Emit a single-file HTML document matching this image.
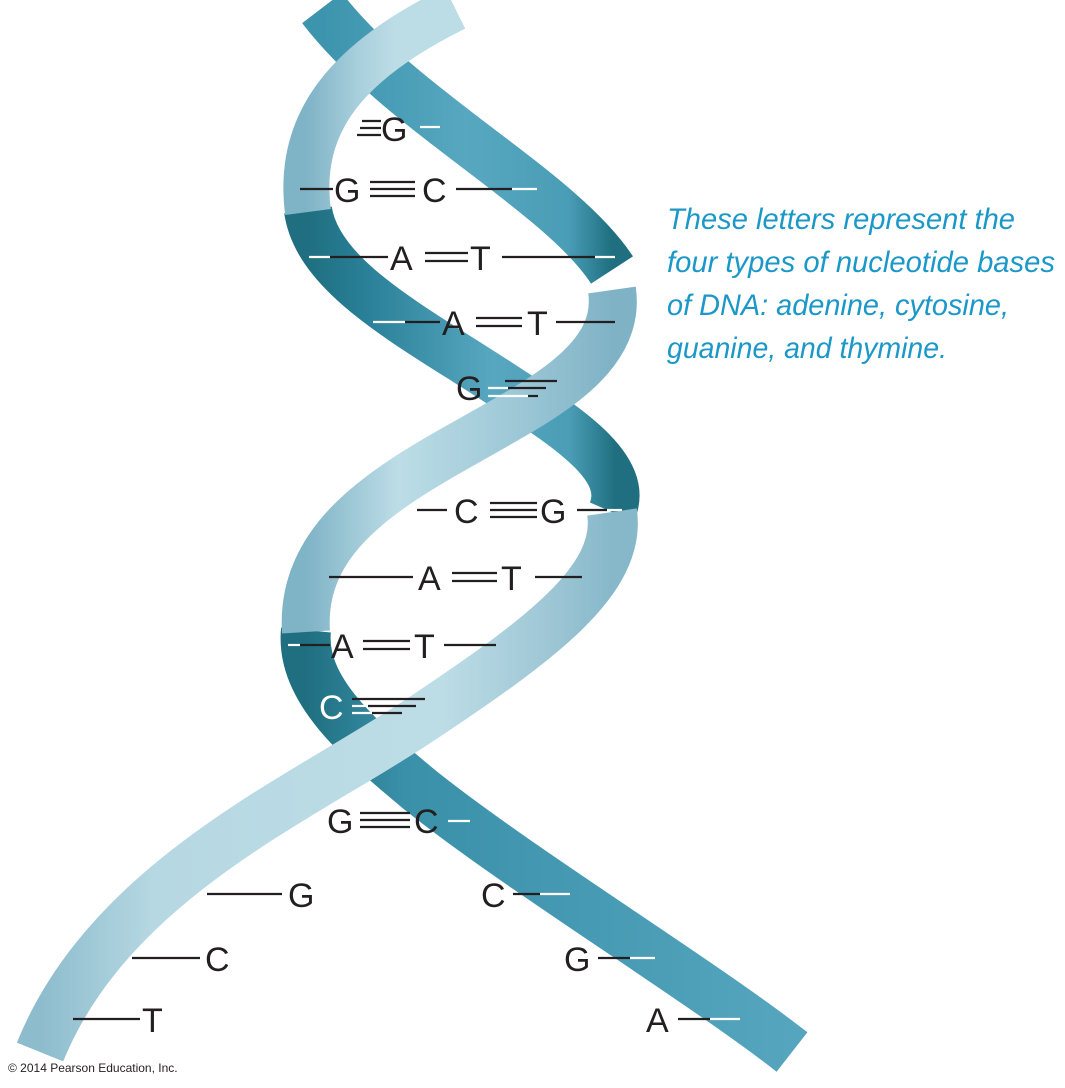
<!DOCTYPE html>
<html><head><meta charset="utf-8"><style>
html,body{margin:0;padding:0;background:#fff;}
svg{display:block;}
.b{font-family:"Liberation Sans",sans-serif;font-size:34px;fill:#231f20;}
.w{font-family:"Liberation Sans",sans-serif;font-size:34px;fill:#fff;}
.r{font-family:"Liberation Sans",sans-serif;font-style:italic;font-size:30px;fill:#1b98c8;}
</style></head><body>
<svg width="1065" height="1088" viewBox="0 0 1065 1088" xmlns="http://www.w3.org/2000/svg">
<defs>
<linearGradient id="d1" x1="0" y1="0" x2="1" y2="0">
<stop offset="0" stop-color="#3d94ad"/><stop offset="0.5" stop-color="#57a7c0"/><stop offset="0.85" stop-color="#4a9db6"/><stop offset="1" stop-color="#1f6f80"/></linearGradient>
<linearGradient id="d2" x1="0" y1="0" x2="1" y2="0">
<stop offset="0" stop-color="#1f6f80"/><stop offset="0.2" stop-color="#2a8199"/><stop offset="0.6" stop-color="#58a7c0"/><stop offset="0.85" stop-color="#4a9db5"/><stop offset="1" stop-color="#1f6f80"/></linearGradient>
<linearGradient id="d3" x1="0" y1="0" x2="1" y2="0">
<stop offset="0" stop-color="#1f6f80"/><stop offset="0.2" stop-color="#3a90a9"/><stop offset="1" stop-color="#55a5be"/></linearGradient>
<linearGradient id="l1" x1="0" y1="0" x2="1" y2="0">
<stop offset="0" stop-color="#7fb3c6"/><stop offset="0.35" stop-color="#a8cfdc"/><stop offset="0.6" stop-color="#bddde6"/><stop offset="1" stop-color="#bcdde5"/></linearGradient>
<linearGradient id="l2" x1="0" y1="0" x2="1" y2="0">
<stop offset="0" stop-color="#7fb3c6"/><stop offset="0.3" stop-color="#bcdde6"/><stop offset="0.7" stop-color="#9cc7d6"/><stop offset="1" stop-color="#7fb2c5"/></linearGradient>
<linearGradient id="l3" x1="0" y1="0" x2="1" y2="0">
<stop offset="0" stop-color="#8dbccd"/><stop offset="0.2" stop-color="#b6d8e2"/><stop offset="0.7" stop-color="#bddde6"/><stop offset="0.9" stop-color="#9cc5d4"/><stop offset="1" stop-color="#86b8ca"/></linearGradient>
</defs>
<g fill="none" stroke-linecap="butt">
<!-- dark segments -->
<path d="M322,8 C 400,110 560,190 612,270" stroke="url(#d1)" stroke-width="50"/>
<path d="M308,210 C 318,280 420,330 510,390 C 575,432 630,470 612,512" stroke="url(#d2)" stroke-width="48"/>
<path d="M306,630 C 300,690 360,740 420,790 C 520,870 700,980 792,1052" stroke="url(#d3)" stroke-width="50"/>
<!-- light segments -->
<path d="M455,8 C 350,60 296,120 308,212" stroke="url(#l1)" stroke-width="46"/>
<path d="M612,290 C 622,360 540,400 470,440 C 380,490 300,540 306,632" stroke="url(#l2)" stroke-width="48"/>
<path d="M612,512 C 622,580 540,640 420,720 C 300,800 110,880 40,1052" stroke="url(#l3)" stroke-width="50"/>
</g>
<g stroke-width="2.2" stroke="#231f20">
<!-- row1 -->
<line x1="362" y1="121" x2="381" y2="121"/><line x1="360" y1="128" x2="381" y2="128"/><line x1="357" y1="135" x2="381" y2="135"/>
<line x1="420" y1="127" x2="440" y2="127" stroke="#fff"/>
<!-- row2 -->
<line x1="300" y1="189" x2="333" y2="189"/>
<line x1="370" y1="182" x2="415" y2="182"/><line x1="370" y1="189" x2="415" y2="189"/><line x1="370" y1="196" x2="415" y2="196"/>
<line x1="456" y1="189" x2="512" y2="189"/><line x1="512" y1="189" x2="537" y2="189" stroke="#fff"/>
<!-- row3 -->
<line x1="309" y1="257" x2="330" y2="257" stroke="#fff"/><line x1="330" y1="257" x2="388" y2="257"/>
<line x1="425" y1="253" x2="468" y2="253"/><line x1="425" y1="261" x2="468" y2="261"/>
<line x1="502" y1="257" x2="595" y2="257"/><line x1="595" y1="257" x2="615" y2="257" stroke="#fff"/>
<!-- row4 -->
<line x1="373" y1="322" x2="405" y2="322" stroke="#fff"/><line x1="405" y1="322" x2="440" y2="322"/>
<line x1="476" y1="318" x2="522" y2="318"/><line x1="476" y1="326" x2="522" y2="326"/>
<line x1="556" y1="322" x2="615" y2="322"/>
<!-- row5 -->
<line x1="505" y1="381" x2="557" y2="381"/>
<line x1="488" y1="388" x2="508" y2="388" stroke="#fff"/><line x1="508" y1="388" x2="546" y2="388"/>
<line x1="488" y1="396" x2="528" y2="396" stroke="#fff"/><line x1="528" y1="396" x2="538" y2="396"/>
<!-- row6 -->
<line x1="417" y1="510" x2="447" y2="510"/>
<line x1="490" y1="503" x2="537" y2="503"/><line x1="490" y1="510" x2="537" y2="510"/><line x1="490" y1="517" x2="537" y2="517"/>
<line x1="577" y1="510" x2="607" y2="510"/><line x1="607" y1="510" x2="622" y2="510" stroke="#fff"/>
<!-- row7 -->
<line x1="329" y1="577" x2="413" y2="577"/>
<line x1="452" y1="573" x2="497" y2="573"/><line x1="452" y1="581" x2="497" y2="581"/>
<line x1="535" y1="577" x2="582" y2="577"/>
<!-- row8 -->
<line x1="288" y1="645" x2="300" y2="645" stroke="#fff"/><line x1="300" y1="645" x2="330" y2="645"/>
<line x1="363" y1="641" x2="410" y2="641"/><line x1="363" y1="649" x2="410" y2="649"/>
<line x1="444" y1="645" x2="496" y2="645"/>
<!-- row9 -->
<line x1="352" y1="699" x2="425" y2="699"/>
<line x1="352" y1="706" x2="368" y2="706" stroke="#fff"/><line x1="368" y1="706" x2="416" y2="706"/>
<line x1="352" y1="713" x2="372" y2="713" stroke="#fff"/><line x1="372" y1="713" x2="402" y2="713"/>
<!-- row10 -->
<line x1="360" y1="813" x2="410" y2="813"/><line x1="360" y1="820" x2="410" y2="820"/><line x1="360" y1="827" x2="410" y2="827"/>
<line x1="448" y1="821" x2="470" y2="821" stroke="#fff"/>
<!-- row11 -->
<line x1="207" y1="894" x2="282" y2="894"/>
<line x1="513" y1="894" x2="540" y2="894"/><line x1="540" y1="894" x2="570" y2="894" stroke="#fff"/>
<!-- row12 -->
<line x1="132" y1="958" x2="200" y2="958"/>
<line x1="598" y1="958" x2="630" y2="958"/><line x1="630" y1="958" x2="655" y2="958" stroke="#fff"/>
<!-- row13 -->
<line x1="73" y1="1019" x2="140" y2="1019"/>
<line x1="678" y1="1019" x2="710" y2="1019"/><line x1="710" y1="1019" x2="740" y2="1019" stroke="#fff"/>
</g>
<g>
<text class="b" x="381" y="141">G</text>
<text class="b" x="334" y="202">G</text><text class="b" x="422" y="202">C</text>
<text class="b" x="390" y="270">A</text><text class="b" x="470" y="270">T</text>
<text class="b" x="442" y="335">A</text><text class="b" x="527" y="335">T</text>
<text class="b" x="456" y="400">G</text>
<text class="b" x="454" y="523">C</text><text class="b" x="540" y="523">G</text>
<text class="b" x="418" y="590">A</text><text class="b" x="501" y="590">T</text>
<text class="b" x="331" y="658">A</text><text class="b" x="414" y="658">T</text>
<text class="w" x="319" y="719">C</text>
<text class="b" x="327" y="833">G</text><text class="b" x="414" y="833">C</text>
<text class="b" x="288" y="907">G</text><text class="b" x="481" y="907">C</text>
<text class="b" x="205" y="971">C</text><text class="b" x="564" y="971">G</text>
<text class="b" x="142" y="1032">T</text><text class="b" x="646" y="1032">A</text>
</g>
<text class="r" x="667" y="229" textLength="348" lengthAdjust="spacingAndGlyphs">These letters represent the</text>
<text class="r" x="667" y="272" textLength="388" lengthAdjust="spacingAndGlyphs">four types of nucleotide bases</text>
<text class="r" x="667" y="315" textLength="342" lengthAdjust="spacingAndGlyphs">of DNA: adenine, cytosine,</text>
<text class="r" x="667" y="358" textLength="280" lengthAdjust="spacingAndGlyphs">guanine, and thymine.</text>
<text x="8" y="1072" style="font-family:'Liberation Sans',sans-serif;font-size:12px;fill:#231f20">© 2014 Pearson Education, Inc.</text>
</svg>
</body></html>
